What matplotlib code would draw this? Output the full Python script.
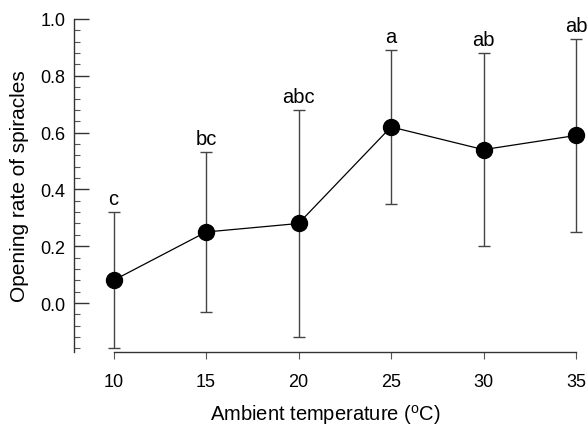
import matplotlib
matplotlib.use("Agg")
from matplotlib import pyplot as plt
from matplotlib.ticker import MultipleLocator

# data
temps = [10, 15, 20, 25, 30, 35]
rate = [0.08, 0.25, 0.28, 0.62, 0.54, 0.59]
err = [0.24, 0.28, 0.40, 0.27, 0.34, 0.34]
letters = ["c", "bc", "abc", "a", "ab", "ab"]

plt.rcParams['font.family'] = ['Liberation Sans', 'DejaVu Sans']

fig = plt.figure(figsize=(5.88, 4.27), dpi=100)
ax = fig.add_axes([74 / 588, 74 / 427, 502 / 588, 333 / 427])

ax.errorbar(temps, rate, yerr=err, fmt='none', ecolor='#444444',
            elinewidth=1.0, capsize=4, capthick=1.0, clip_on=False, zorder=2)
ax.plot(temps, rate, color='black', lw=0.9, marker='o', markersize=11.5,
        markerfacecolor='black', markeredgecolor='black', clip_on=False, zorder=3)

for x, y, e, s in zip(temps, rate, err, letters):
    ax.annotate(s, (x, y + e), xytext=(0, 3), textcoords='offset points',
                ha='center', va='bottom', fontsize=14.5, annotation_clip=False)

ax.set_xlim(7.86, 35)
ax.set_ylim(-0.1725, 1.0)
ax.set_xticks(temps)
ax.yaxis.set_major_locator(MultipleLocator(0.2))
ax.yaxis.set_minor_locator(MultipleLocator(0.04))
ax.set_yticks([0.0, 0.2, 0.4, 0.6, 0.8, 1.0])
ax.set_yticklabels(["0.0", "0.2", "0.4", "0.6", "0.8", "1.0"])

ax.spines['top'].set_visible(False)
ax.spines['right'].set_visible(False)
ax.spines['bottom'].set_bounds(10, 35)
ax.spines['left'].set_bounds(-0.1725, 1.0)
for sp in ['left', 'bottom']:
    ax.spines[sp].set_linewidth(1.0)
    ax.spines[sp].set_color('#333333')

ax.tick_params(axis='y', which='major', direction='in', length=11, width=1.0,
               pad=6, labelsize=13, color='#333333')
ax.tick_params(axis='y', which='minor', direction='in', length=4, width=0.8,
               color='#555555')
ax.tick_params(axis='x', which='major', direction='out', length=5, width=0.8,
               pad=10, labelsize=13, color='#555555')

ax.set_xlabel("Ambient temperature ($^\\mathregular{o}$C)", fontsize=14.5, labelpad=9)
ax.set_ylabel("Opening rate of spiracles", fontsize=15, labelpad=8)

fig.savefig("out.png", dpi=100)
